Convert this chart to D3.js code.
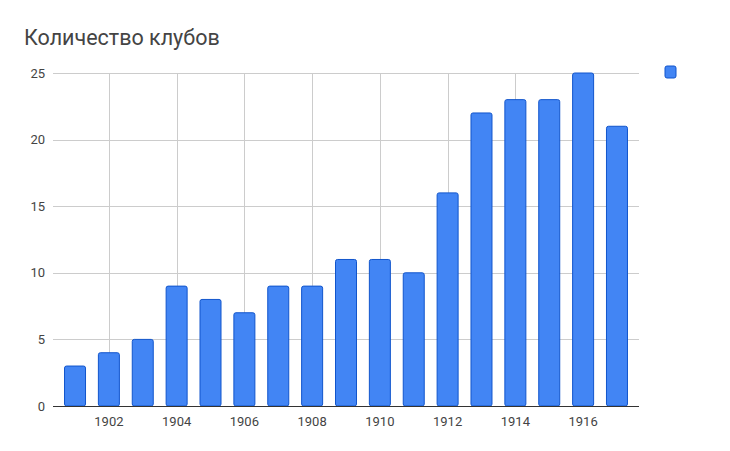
<!DOCTYPE html>
<html>
<head>
<meta charset="utf-8">
<script src="https://cdn.jsdelivr.net/npm/d3@7"></script>
<style>
  body { margin: 0; background: #fff; }
  text { font-family: Roboto, "Noto Sans", sans-serif; }
</style>
</head>
<body>
<div id="chart"></div>
<script>
// data
var years = [1901, 1902, 1903, 1904, 1905, 1906, 1907, 1908, 1909, 1910, 1911, 1912, 1913, 1914, 1915, 1916, 1917];
var clubs = [3, 4, 5, 9, 8, 7, 9, 9, 11, 11, 10, 16, 22, 23, 23, 25, 21];
var yTicks = [0, 5, 10, 15, 20, 25];
var xTicks = [1902, 1904, 1906, 1908, 1910, 1912, 1914, 1916];

var W = 730, H = 451;
// plot box (window.top is reserved, so use other names)
var plotL = 53, plotR = 639, plotT = 73, plotB = 406;

var svg = d3.select("#chart").append("svg")
  .attr("width", W).attr("height", H);

var x = d3.scaleLinear().domain([1900.35, 1917.65]).range([plotL, plotR]);
var y = d3.scaleLinear().domain([0, 25]).range([plotB, plotT]);
var barW = 21;

// title
svg.append("text")
  .attr("x", 24).attr("y", 45)
  .attr("font-size", 21.5)
  .attr("fill", "#444")
  .text("Количество клубов");

// horizontal grid
svg.append("g").selectAll("line")
  .data(yTicks.filter(function(d) { return d > 0; }))
  .enter().append("line")
  .attr("x1", plotL).attr("x2", plotR)
  .attr("y1", function(d) { return Math.round(y(d)) + 0.5; })
  .attr("y2", function(d) { return Math.round(y(d)) + 0.5; })
  .attr("stroke", "#ccc");

// vertical grid
svg.append("g").selectAll("line")
  .data(xTicks)
  .enter().append("line")
  .attr("y1", plotT).attr("y2", plotB)
  .attr("x1", function(d) { return Math.round(x(d)) + 0.5; })
  .attr("x2", function(d) { return Math.round(x(d)) + 0.5; })
  .attr("stroke", "#ccc");

// y labels
svg.append("g").selectAll("text")
  .data(yTicks)
  .enter().append("text")
  .attr("x", 45)
  .attr("y", function(d) { return y(d) + 4.5; })
  .attr("text-anchor", "end")
  .attr("font-size", 13)
  .attr("fill", "#444")
  .text(function(d) { return d; });

// x labels
svg.append("g").selectAll("text")
  .data(xTicks)
  .enter().append("text")
  .attr("x", function(d) { return x(d); })
  .attr("y", 426)
  .attr("text-anchor", "middle")
  .attr("font-size", 13)
  .attr("fill", "#444")
  .text(function(d) { return d; });

// bars
svg.append("g").selectAll("rect")
  .data(years)
  .enter().append("rect")
  .attr("x", function(d) { return x(d) - barW / 2; })
  .attr("y", function(d, i) { return y(clubs[i]); })
  .attr("width", barW)
  .attr("height", function(d, i) { return plotB - y(clubs[i]); })
  .attr("rx", 2)
  .attr("fill", "#4285f4")
  .attr("stroke", "#1155cc")
  .attr("stroke-width", 1);

// baseline
svg.append("line")
  .attr("x1", plotL).attr("x2", plotR)
  .attr("y1", plotB + 0.5).attr("y2", plotB + 0.5)
  .attr("stroke", "#333");

// legend swatch (no label)
svg.append("rect")
  .attr("x", 665).attr("y", 66)
  .attr("width", 11).attr("height", 12)
  .attr("rx", 2)
  .attr("fill", "#4285f4")
  .attr("stroke", "#1155cc");
</script>
</body>
</html>
